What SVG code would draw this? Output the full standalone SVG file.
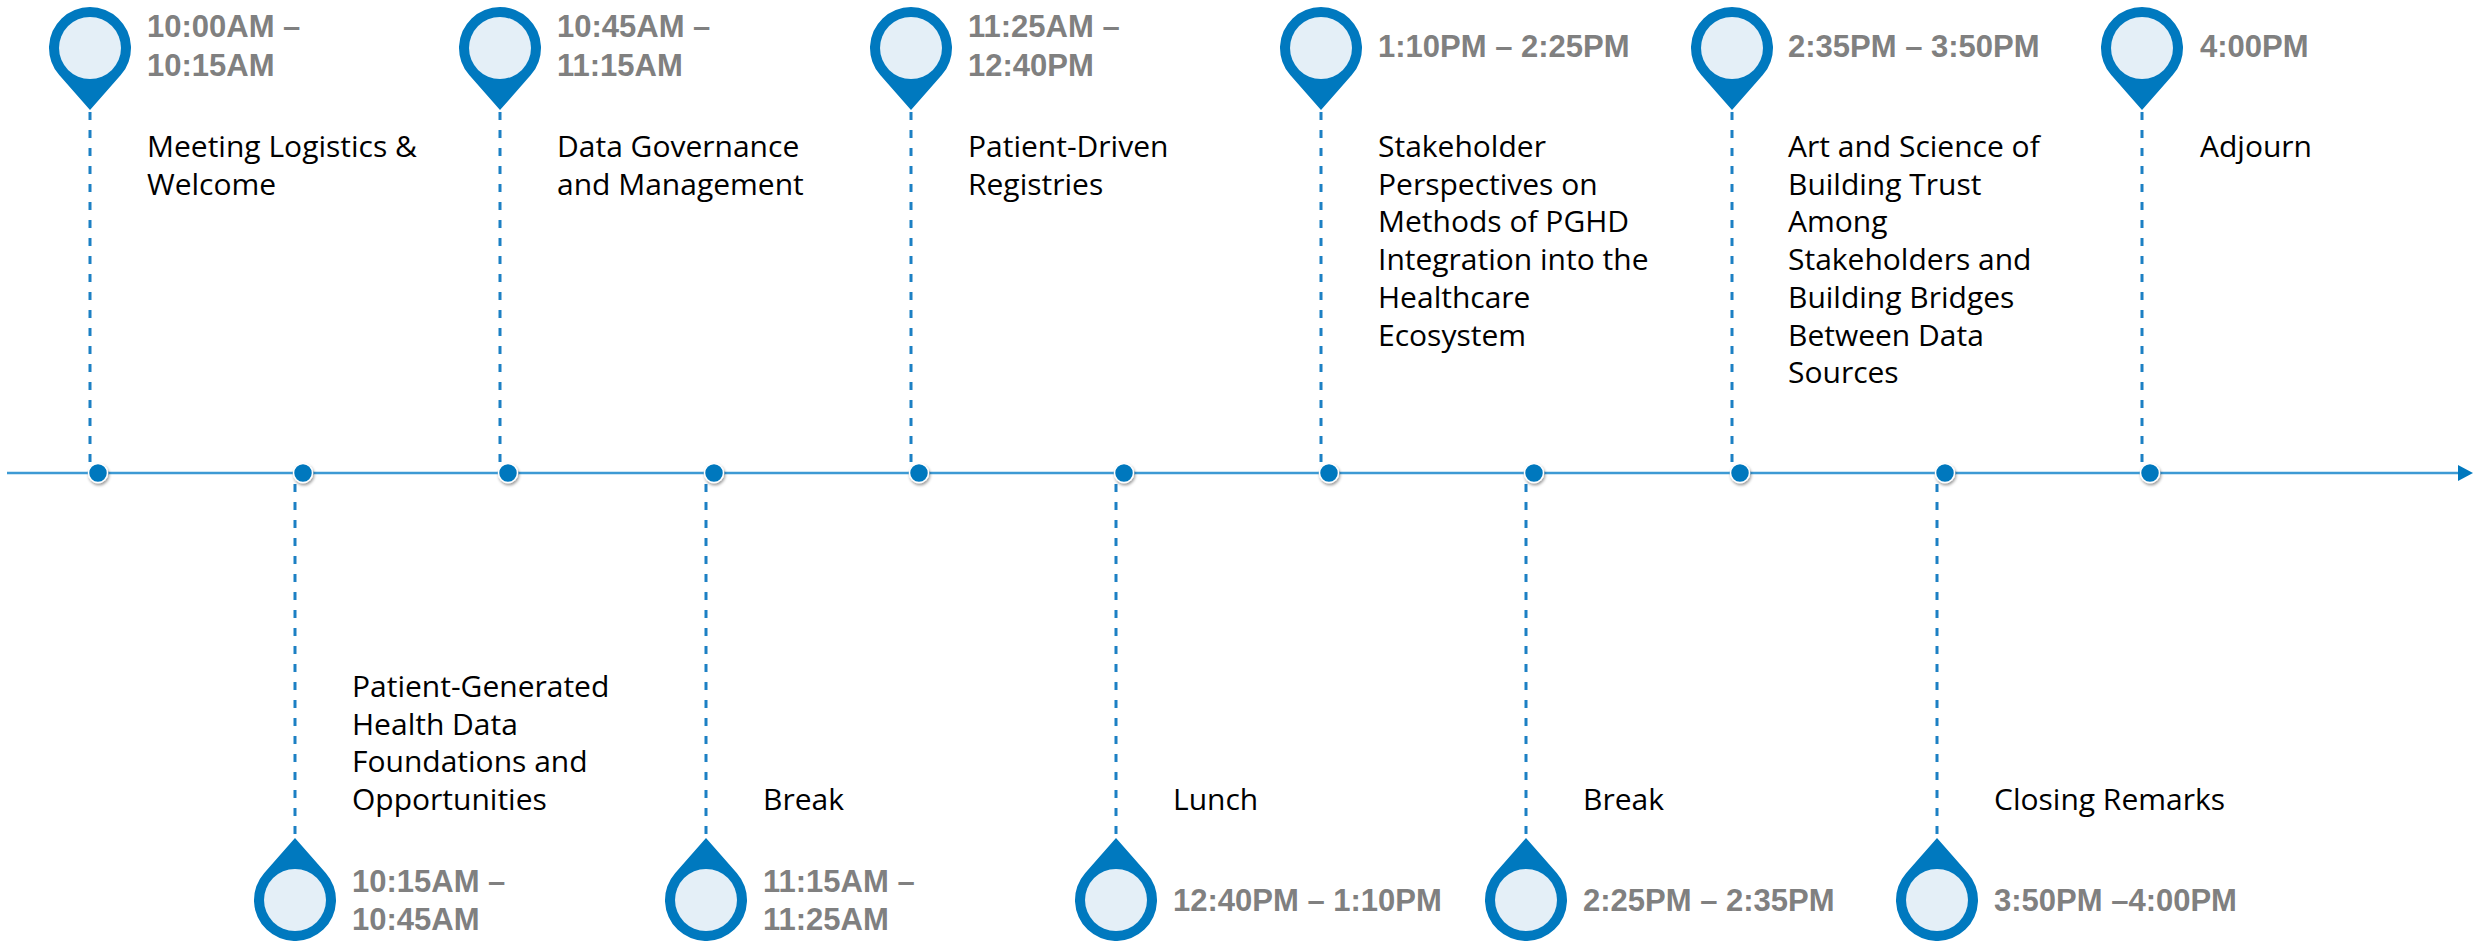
<svg xmlns="http://www.w3.org/2000/svg" xmlns:xlink="http://www.w3.org/1999/xlink" width="2475" height="941" viewBox="0 0 2475 941">
<style>
.time{font-family:"Liberation Sans",Arial,sans-serif;font-weight:bold;font-size:31px;fill:#808080}
.title{font-family:"Open Sans","Liberation Sans",sans-serif;font-size:30px;fill:#000}
.dash{stroke:#1C80C4;stroke-width:3;stroke-dasharray:8 10;fill:none}
.axis{stroke:#3D9AD4;stroke-width:2.5;fill:none}
.dot{fill:#0078BE;stroke:#fff;stroke-width:1.5;filter:url(#sh)}
.pin{fill:#0079BF}
.inner{fill:#E4EFF7}
</style>
<defs>
<filter id="sh" x="-50%" y="-50%" width="200%" height="200%">
<feDropShadow dx="1" dy="2" stdDeviation="1.8" flood-color="#000" flood-opacity="0.4"/>
</filter>
<g id="pinT">
<path class="pin" d="M-30.75 27.1 A41 41 0 1 1 30.75 27.1 L0 62 Z"/>
<circle class="inner" cx="0" cy="0" r="31"/>
</g>
<marker id="arr" markerWidth="16" markerHeight="16" refX="0" refY="8" orient="auto" markerUnits="userSpaceOnUse">
<path d="M0 0 L15 8 L0 16 Z" fill="#0078BE"/>
</marker>
</defs>

<g id="connectors">
<line class="axis" x1="7" y1="473" x2="2458" y2="473" marker-end="url(#arr)"/>
<line class="dash" x1="90" y1="112" x2="90" y2="462"/>
<line class="dash" x1="295" y1="484" x2="295" y2="836"/>
<line class="dash" x1="500" y1="112" x2="500" y2="462"/>
<line class="dash" x1="706" y1="484" x2="706" y2="836"/>
<line class="dash" x1="911" y1="112" x2="911" y2="462"/>
<line class="dash" x1="1116" y1="484" x2="1116" y2="836"/>
<line class="dash" x1="1321" y1="112" x2="1321" y2="462"/>
<line class="dash" x1="1526" y1="484" x2="1526" y2="836"/>
<line class="dash" x1="1732" y1="112" x2="1732" y2="462"/>
<line class="dash" x1="1937" y1="484" x2="1937" y2="836"/>
<line class="dash" x1="2142" y1="112" x2="2142" y2="462"/>
<circle class="dot" cx="98" cy="473" r="9.5"/>
<circle class="dot" cx="303" cy="473" r="9.5"/>
<circle class="dot" cx="508" cy="473" r="9.5"/>
<circle class="dot" cx="714" cy="473" r="9.5"/>
<circle class="dot" cx="919" cy="473" r="9.5"/>
<circle class="dot" cx="1124" cy="473" r="9.5"/>
<circle class="dot" cx="1329" cy="473" r="9.5"/>
<circle class="dot" cx="1534" cy="473" r="9.5"/>
<circle class="dot" cx="1740" cy="473" r="9.5"/>
<circle class="dot" cx="1945" cy="473" r="9.5"/>
<circle class="dot" cx="2150" cy="473" r="9.5"/>
</g>

<g id="n1">
<use xlink:href="#pinT" transform="translate(90,48)"/>
<text class="time"><tspan x="147" y="37">10:00AM –</tspan><tspan x="147" y="76">10:15AM</tspan></text>
<text class="title"><tspan x="147" y="157">Meeting Logistics &amp;</tspan><tspan x="147" y="194.7">Welcome</tspan></text>
</g>
<g id="n2">
<use xlink:href="#pinT" transform="translate(295,900) scale(1,-1)"/>
<text class="title"><tspan x="352" y="696.9">Patient-Generated</tspan><tspan x="352" y="734.6">Health Data</tspan><tspan x="352" y="772.3">Foundations and</tspan><tspan x="352" y="810">Opportunities</tspan></text>
<text class="time"><tspan x="352" y="892">10:15AM –</tspan><tspan x="352" y="930">10:45AM</tspan></text>
</g>
<g id="n3">
<use xlink:href="#pinT" transform="translate(500,48)"/>
<text class="time"><tspan x="557" y="37">10:45AM –</tspan><tspan x="557" y="76">11:15AM</tspan></text>
<text class="title"><tspan x="557" y="157">Data Governance</tspan><tspan x="557" y="194.7">and Management</tspan></text>
</g>
<g id="n4">
<use xlink:href="#pinT" transform="translate(706,900) scale(1,-1)"/>
<text class="title"><tspan x="763" y="810">Break</tspan></text>
<text class="time"><tspan x="763" y="892">11:15AM –</tspan><tspan x="763" y="930">11:25AM</tspan></text>
</g>
<g id="n5">
<use xlink:href="#pinT" transform="translate(911,48)"/>
<text class="time"><tspan x="968" y="37">11:25AM –</tspan><tspan x="968" y="76">12:40PM</tspan></text>
<text class="title"><tspan x="968" y="157">Patient-Driven</tspan><tspan x="968" y="194.7">Registries</tspan></text>
</g>
<g id="n6">
<use xlink:href="#pinT" transform="translate(1116,900) scale(1,-1)"/>
<text class="title"><tspan x="1173" y="810">Lunch</tspan></text>
<text class="time"><tspan x="1173" y="911">12:40PM – 1:10PM</tspan></text>
</g>
<g id="n7">
<use xlink:href="#pinT" transform="translate(1321,48)"/>
<text class="time"><tspan x="1378" y="57">1:10PM – 2:25PM</tspan></text>
<text class="title"><tspan x="1378" y="157">Stakeholder</tspan><tspan x="1378" y="194.7">Perspectives on</tspan><tspan x="1378" y="232.4">Methods of PGHD</tspan><tspan x="1378" y="270.1">Integration into the</tspan><tspan x="1378" y="307.8">Healthcare</tspan><tspan x="1378" y="345.5">Ecosystem</tspan></text>
</g>
<g id="n8">
<use xlink:href="#pinT" transform="translate(1526,900) scale(1,-1)"/>
<text class="title"><tspan x="1583" y="810">Break</tspan></text>
<text class="time"><tspan x="1583" y="911">2:25PM – 2:35PM</tspan></text>
</g>
<g id="n9">
<use xlink:href="#pinT" transform="translate(1732,48)"/>
<text class="time"><tspan x="1788" y="57">2:35PM – 3:50PM</tspan></text>
<text class="title"><tspan x="1788" y="157">Art and Science of</tspan><tspan x="1788" y="194.7">Building Trust</tspan><tspan x="1788" y="232.4">Among</tspan><tspan x="1788" y="270.1">Stakeholders and</tspan><tspan x="1788" y="307.8">Building Bridges</tspan><tspan x="1788" y="345.5">Between Data</tspan><tspan x="1788" y="383.2">Sources</tspan></text>
</g>
<g id="n10">
<use xlink:href="#pinT" transform="translate(1937,900) scale(1,-1)"/>
<text class="title"><tspan x="1994" y="810">Closing Remarks</tspan></text>
<text class="time"><tspan x="1994" y="911">3:50PM –4:00PM</tspan></text>
</g>
<g id="n11">
<use xlink:href="#pinT" transform="translate(2142,48)"/>
<text class="time"><tspan x="2200" y="57">4:00PM</tspan></text>
<text class="title"><tspan x="2200" y="157">Adjourn</tspan></text>
</g>
</svg>
